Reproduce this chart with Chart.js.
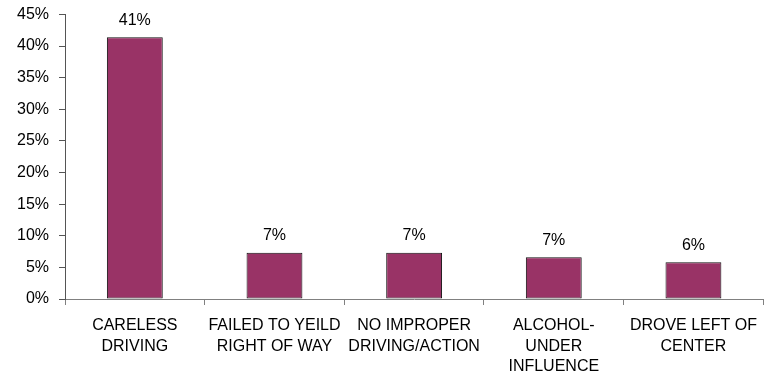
<!DOCTYPE html>
<html>
<head>
<meta charset="utf-8">
<script src="https://cdn.jsdelivr.net/npm/chart.js@4.4.0/dist/chart.umd.min.js"></script>
<style>
  html, body { margin: 0; padding: 0; background: #fff; }
  #wrap { position: relative; width: 767px; height: 379px; }
</style>
</head>
<body>
<div id="wrap"><canvas id="c"></canvas></div>
<script>
// Share of crashes by primary contributing factor
var categories = [
  ["CARELESS", "DRIVING"],
  ["FAILED TO YEILD", "RIGHT OF WAY"],
  ["NO IMPROPER", "DRIVING/ACTION"],
  ["ALCOHOL-", "UNDER", "INFLUENCE"],
  ["DROVE LEFT OF", "CENTER"]
];
var shares = [41.4, 7.3, 7.3, 6.6, 5.8];
var yTicks = [0, 5, 10, 15, 20, 25, 30, 35, 40, 45];

var FONT = "Arial, 'Liberation Sans', sans-serif";

// value labels above each bar
var barLabels = {
  id: "barLabels",
  afterDatasetsDraw: function (chart) {
    var ctx = chart.ctx;
    var meta = chart.getDatasetMeta(0);
    ctx.save();
    ctx.font = "16px " + FONT;
    ctx.fillStyle = "#000";
    ctx.textAlign = "center";
    ctx.textBaseline = "bottom";
    meta.data.forEach(function (bar, i) {
      ctx.fillText(Math.round(shares[i]) + "%", bar.x, bar.y - 9);
    });
    ctx.restore();
  }
};

new Chart(document.getElementById("c"), {
  type: "bar",
  data: {
    labels: categories,
    datasets: [{
      data: shares,
      backgroundColor: "#993366",
      borderColor: "#111",
      borderWidth: 1,
      borderSkipped: false,
      barPercentage: 0.4,
      categoryPercentage: 1
    }]
  },
  options: {
    responsive: true,
    maintainAspectRatio: false,
    animation: false,
    layout: { padding: 0 },
    plugins: { legend: { display: false }, tooltip: { enabled: false } },
    scales: {
      x: {
        afterFit: function (s) { s.height = 80; },
        grid: { drawOnChartArea: false, tickLength: 6, color: "#808080", offset: true },
        border: { color: "#808080", width: 1 },
        ticks: { color: "#000", font: { family: FONT, size: 16, lineHeight: 1.3 }, padding: 10, maxRotation: 0, autoSkip: false }
      },
      y: {
        min: 0, max: 45,
        afterFit: function (s) { s.width = 65; },
        afterBuildTicks: function (s) { s.ticks = yTicks.map(function (v) { return { value: v }; }); },
        grid: { drawOnChartArea: false, tickLength: 6, color: "#555" },
        border: { color: "#555", width: 1 },
        ticks: { color: "#000", font: { family: FONT, size: 16, lineHeight: 0.55 }, padding: 10, callback: function (v) { return v + "%"; } }
      }
    }
  },
  plugins: [barLabels]
});
</script>
</body>
</html>
